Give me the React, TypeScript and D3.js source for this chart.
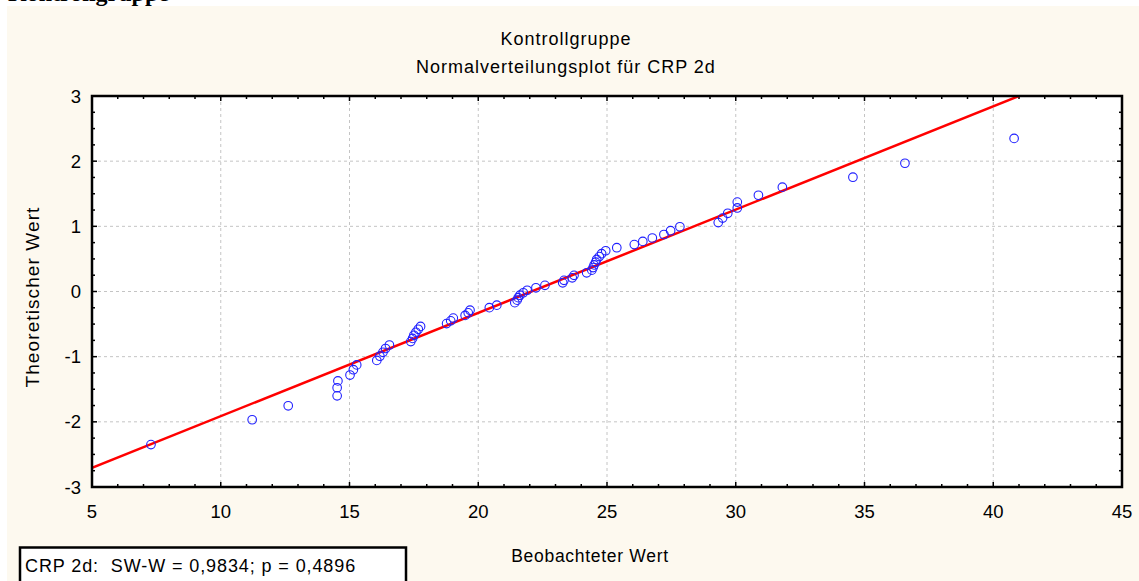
import React from "react";
import * as d3 from "d3";

// Observed CRP values on day 2 (sorted) and their expected normal scores
const observed = [
  7.29, 11.22, 12.62, 14.52, 14.52, 14.55, 15.02, 15.15, 15.28, 16.06,
  16.18, 16.3, 16.4, 16.55, 17.38, 17.45, 17.5, 17.58, 17.67, 17.76,
  18.77, 18.93, 19.03, 19.49, 19.61, 19.68, 20.43, 20.72, 21.42, 21.51,
  21.55, 21.62, 21.75, 21.9, 22.24, 22.59, 23.28, 23.33, 23.65, 23.72,
  24.21, 24.41, 24.46, 24.5, 24.56, 24.6, 24.7, 24.79, 24.95, 25.38,
  26.06, 26.39, 26.76, 27.21, 27.47, 27.83, 29.32, 29.49, 29.69, 30.06,
  30.06, 30.88, 31.81, 34.55, 36.57, 40.81,
];
const theoretical = [
  -2.349, -1.968, -1.754, -1.601, -1.477, -1.372, -1.282, -1.2, -1.126, -1.057,
  -0.993, -0.933, -0.875, -0.821, -0.769, -0.72, -0.672, -0.625, -0.58, -0.536,
  -0.492, -0.45, -0.408, -0.367, -0.327, -0.287, -0.248, -0.21, -0.171, -0.133,
  -0.095, -0.057, -0.019, 0.019, 0.057, 0.095, 0.133, 0.171, 0.21, 0.248,
  0.287, 0.327, 0.367, 0.408, 0.45, 0.492, 0.536, 0.58, 0.625, 0.672,
  0.72, 0.769, 0.821, 0.875, 0.933, 0.993, 1.057, 1.126, 1.2, 1.282,
  1.372, 1.477, 1.601, 1.754, 1.968, 2.349,
];

const xTicks = [5, 10, 15, 20, 25, 30, 35, 40, 45];
const yTicks = [-3, -2, -1, 0, 1, 2, 3];

// Reference normal line: theoretical = (observed - mean) / sd
const fitMean = 22.07;
const fitSd = 6.31;

const pageHeading = "Kontrollgruppe";
const titleLines = ["Kontrollgruppe", "Normalverteilungsplot für CRP 2d"];
const xLabel = "Beobachteter Wert";
const yLabel = "Theoretischer Wert";
const statsText = "CRP 2d:  SW-W = 0,9834; p = 0,4896";

const W = 1139;
const H = 581;
const plot = { left: 92, right: 1122, top: 96, bottom: 487 };
const sans = "'Liberation Sans', Arial, sans-serif";

export default function App() {
  const x = d3.scaleLinear().domain([5, 45]).range([plot.left, plot.right]);
  const y = d3.scaleLinear().domain([-3, 3]).range([plot.bottom, plot.top]);

  const xMinor = d3.range(5, 45.001, 1);
  const yMinor = d3.range(-3, 3.001, 0.25);

  const fitLine = d3
    .line<number>()
    .x((v) => x(v))
    .y((v) => y((v - fitMean) / fitSd));

  return (
    <svg
      width={W}
      height={H}
      style={{ position: "absolute", left: 0, top: 0, display: "block", background: "#ffffff" }}
    >
      <defs>
        <clipPath id="plot-clip">
          <rect x={plot.left} y={plot.top} width={plot.right - plot.left} height={plot.bottom - plot.top} />
        </clipPath>
      </defs>

      <text x={8} y={1} fontFamily="'Liberation Serif', 'Times New Roman', serif" fontWeight="bold" fontSize={24} fill="#000">
        {pageHeading}
      </text>

      <rect x={7} y={6} width={W - 7} height={H - 6} fill="#fdf9ef" />

      {/* chart title */}
      {titleLines.map((t, i) => (
        <text
          key={t}
          x={566}
          y={45 + i * 28}
          textAnchor="middle"
          fontFamily={sans}
          fontSize={18}
          letterSpacing={1}
          fill="#000"
        >
          {t}
        </text>
      ))}

      {/* plot area */}
      <rect x={plot.left} y={plot.top} width={plot.right - plot.left} height={plot.bottom - plot.top} fill="#ffffff" />

      {/* grid */}
      <g stroke="#c4c4c4" strokeWidth={1} strokeDasharray="3,3">
        {xTicks.slice(1, -1).map((v) => (
          <line key={`gx${v}`} x1={x(v)} x2={x(v)} y1={plot.top} y2={plot.bottom} />
        ))}
        {yTicks.slice(1, -1).map((v) => (
          <line key={`gy${v}`} x1={plot.left} x2={plot.right} y1={y(v)} y2={y(v)} />
        ))}
      </g>

      {/* ticks, pointing inward on all four sides */}
      <g stroke="#000" strokeWidth={1.5}>
        {xMinor.map((v) => {
          const len = v % 5 === 0 ? 5 : 3;
          return (
            <g key={`tx${v}`}>
              <line x1={x(v)} x2={x(v)} y1={plot.bottom} y2={plot.bottom - len} />
              <line x1={x(v)} x2={x(v)} y1={plot.top} y2={plot.top + len} />
            </g>
          );
        })}
        {yMinor.map((v) => {
          const len = Math.abs(v - Math.round(v)) < 1e-6 ? 5 : 3;
          return (
            <g key={`ty${v}`}>
              <line x1={plot.left} x2={plot.left + len} y1={y(v)} y2={y(v)} />
              <line x1={plot.right} x2={plot.right - len} y1={y(v)} y2={y(v)} />
            </g>
          );
        })}
      </g>

      {/* reference line */}
      <path
        d={fitLine([5, 45]) ?? ""}
        fill="none"
        stroke="#ff0000"
        strokeWidth={2.5}
        clipPath="url(#plot-clip)"
      />

      {/* observations */}
      <g fill="none" stroke="#2020ff" strokeWidth={1.1}>
        {observed.map((v, i) => (
          <circle key={i} cx={x(v)} cy={y(theoretical[i])} r={4.3} />
        ))}
      </g>

      {/* frame */}
      <rect
        x={plot.left}
        y={plot.top}
        width={plot.right - plot.left}
        height={plot.bottom - plot.top}
        fill="none"
        stroke="#000"
        strokeWidth={2.5}
      />

      {/* tick labels */}
      <g fontFamily={sans} fontSize={18.5} fill="#000">
        {yTicks.map((v) => (
          <text key={`ly${v}`} x={81} y={y(v)} textAnchor="end" dominantBaseline="central">
            {v}
          </text>
        ))}
        {xTicks.map((v) => (
          <text key={`lx${v}`} x={x(v)} y={518} textAnchor="middle">
            {v}
          </text>
        ))}
      </g>

      {/* axis titles */}
      <text x={590} y={562} textAnchor="middle" fontFamily={sans} fontSize={17.5} letterSpacing={0.7} fill="#000">
        {xLabel}
      </text>
      <text
        transform={`translate(39, 297) rotate(-90)`}
        textAnchor="middle"
        fontFamily={sans}
        fontSize={19}
        letterSpacing={1.1}
        fill="#000"
      >
        {yLabel}
      </text>

      {/* test statistic box */}
      <rect x={20} y={547.5} width={386} height={40} fill="#ffffff" stroke="#000" strokeWidth={2.5} />
      <text x={25} y={572} fontFamily={sans} fontSize={18} letterSpacing={0.9} fill="#000" style={{ whiteSpace: "pre" }}>
        {statsText}
      </text>
    </svg>
  );
}
